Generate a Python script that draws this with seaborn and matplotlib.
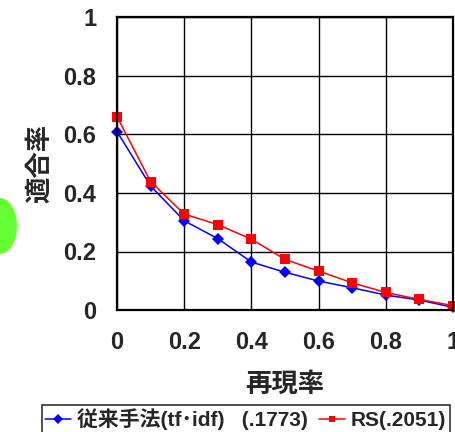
import matplotlib
matplotlib.use("Agg")
import matplotlib.pyplot as plt
import seaborn as sns
import pandas as pd
from matplotlib.patches import Ellipse

recall = [0.0, 0.1, 0.2, 0.3, 0.4, 0.5, 0.6, 0.7, 0.8, 0.9, 1.0]
tfidf = [0.610, 0.424, 0.305, 0.244, 0.164, 0.129, 0.099, 0.076, 0.051, 0.034, 0.009]
rs = [0.661, 0.439, 0.328, 0.292, 0.242, 0.173, 0.133, 0.093, 0.060, 0.036, 0.015]
series_names = ["従来手法(tf･idf)   (.1773)", "RS(.2051)"]
xticks = [0, 0.2, 0.4, 0.6, 0.8, 1]
xtick_labels = ["0", "0.2", "0.4", "0.6", "0.8", "1"]
yticks = [0, 0.2, 0.4, 0.6, 0.8, 1]
ytick_labels = ["0", "0.2", "0.4", "0.6", "0.8", "1"]

sns.set_style("white")
plt.rcParams["font.family"] = ["Liberation Sans", "Noto Sans CJK JP", "DejaVu Sans"]
plt.rcParams["font.weight"] = "bold"

df = pd.DataFrame({
    "recall": recall * 2,
    "precision": tfidf + rs,
    "series": [series_names[0]] * len(recall) + [series_names[1]] * len(recall),
})

fig = plt.figure(figsize=(4.56, 4.32), dpi=100)
ax = fig.add_axes([117 / 456, 1 - 310 / 432, (453 - 117) / 456, (310 - 17.5) / 432])

sns.lineplot(data=df, x="recall", y="precision", hue="series", style="series",
             palette=["#0000ff", "#ff0000"], markers=["D", "s"], dashes=False,
             markersize=6.5, linewidth=1.1, markeredgewidth=0, ax=ax, clip_on=False)

ax.set_xlim(0, 1)
ax.set_ylim(0, 1)
ax.set_xticks(xticks)
ax.set_xticklabels(xtick_labels)
ax.set_yticks(yticks)
ax.set_yticklabels(ytick_labels)
ax.tick_params(axis="x", labelsize=17, pad=15, length=0)
ax.tick_params(axis="y", labelsize=17, pad=15, length=0)
for lab in ax.get_xticklabels() + ax.get_yticklabels():
    lab.set_fontweight("bold")
ax.grid(True, color="#000000", linewidth=1.0)
for s in ax.spines.values():
    s.set_visible(True)
    s.set_color("black")
    s.set_linewidth(1.6)

ax.set_xlabel("再現率", fontsize=19, fontweight="bold", labelpad=13)
ax.set_ylabel("適合率", fontsize=19, fontweight="bold", labelpad=8)

handles, labels = ax.get_legend_handles_labels()
ax.legend_.remove()
leg = fig.legend(handles, labels, loc="upper left", bbox_to_anchor=(42 / 456, 1 - 405 / 432),
                 ncol=2, frameon=True, fancybox=False, edgecolor="black",
                 prop={"size": 15, "weight": "bold"}, handlelength=1.25,
                 handletextpad=0.3, columnspacing=0.5, borderpad=0.15, borderaxespad=0)
leg.get_frame().set_linewidth(1.2)
for h in leg.legend_handles:
    h.set_markersize(5)

fig.patches.append(Ellipse((0.0, 1 - 226 / 432), 34 / 456, 56 / 432,
                           transform=fig.transFigure, facecolor="#66ff33",
                           edgecolor="none", figure=fig))

fig.savefig("out.png", dpi=100)
